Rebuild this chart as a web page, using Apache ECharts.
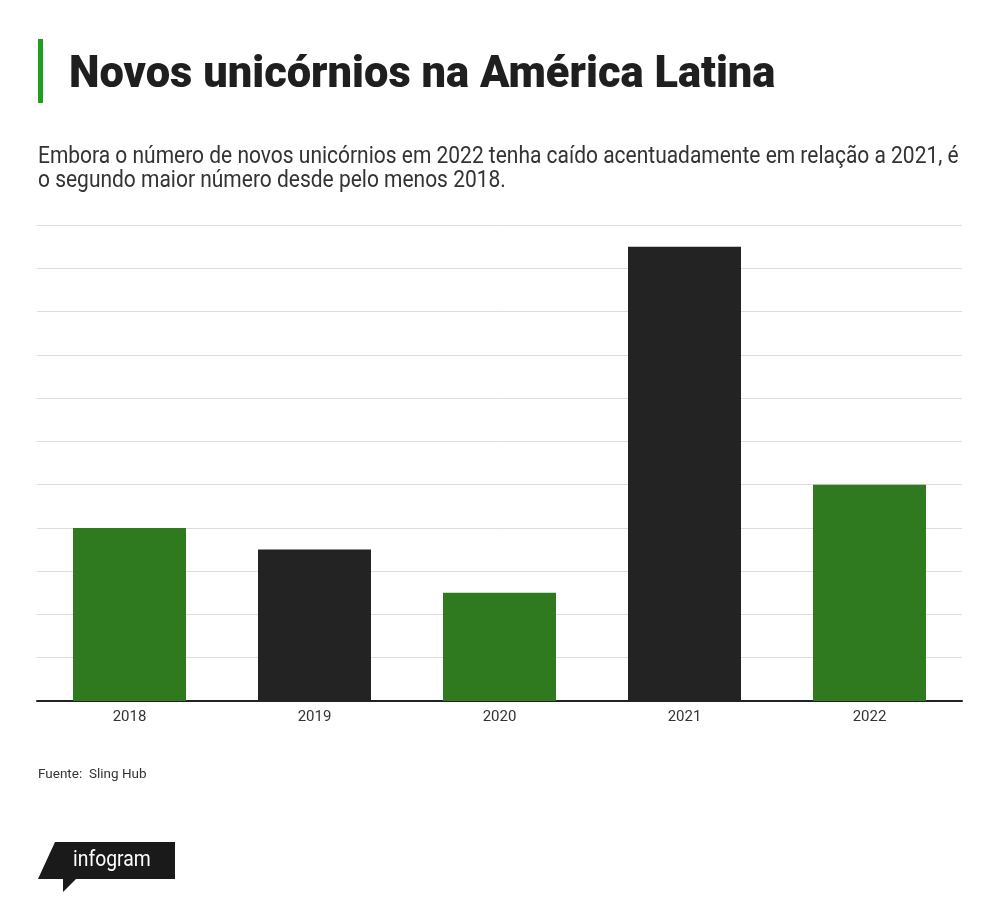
<!DOCTYPE html>
<html>
<head>
<meta charset="utf-8">
<script src="https://cdn.jsdelivr.net/npm/echarts@6/dist/echarts.min.js"></script>
<style>
  html, body { margin: 0; padding: 0; background: #fff; }
  #chart { width: 1000px; height: 911px; }
</style>
</head>
<body>
<div id="chart"></div>
<script>
var years = ['2018', '2019', '2020', '2021', '2022'];
var unicorns = [8, 7, 5, 21, 10];
var barColors = ['#2f7a1e', '#232323', '#2f7a1e', '#232323', '#2f7a1e'];

var titleText = 'Novos unicórnios na América Latina';
var subtitleLines = [
  'Embora o número de novos unicórnios em 2022 tenha caído acentuadamente em relação a 2021, é',
  'o segundo maior número desde pelo menos 2018.'
];
var sourceText = 'Fuente:  Sling Hub';

var chart = echarts.init(document.getElementById('chart'), null, { renderer: 'canvas' });

var option = {
  backgroundColor: '#ffffff',
  animation: false,
  grid: { left: 37, right: 38, top: 225, bottom: 210, containLabel: false },
  xAxis: {
    type: 'category',
    data: years,
    axisLine: { lineStyle: { color: '#222222', width: 2 } },
    axisTick: { show: false },
    axisLabel: { color: '#333333', fontFamily: 'Roboto', fontSize: 15, margin: 9 }
  },
  yAxis: {
    type: 'value',
    min: 0, max: 22, interval: 2,
    axisLabel: { show: false },
    axisLine: { show: false },
    axisTick: { show: false },
    splitLine: { lineStyle: { color: '#dddddd', width: 1 } }
  },
  series: [{
    type: 'bar',
    barWidth: 113,
    data: unicorns.map(function (v, i) {
      return { value: v, itemStyle: { color: barColors[i] } };
    })
  }],
  graphic: [
    { type: 'rect', shape: { x: 38, y: 39, width: 5, height: 64 }, style: { fill: '#1e9e1e' } },
    {
      type: 'text', x: 69, y: 76, scaleX: 0.965,
      style: { text: titleText, fill: '#1f1f1f', font: '900 45px Roboto', verticalAlign: 'middle' }
    },
    {
      type: 'text', x: 38, y: 157, scaleX: 0.912,
      style: { text: subtitleLines[0], fill: '#333333', font: '23px Roboto', verticalAlign: 'middle' }
    },
    {
      type: 'text', x: 38, y: 181, scaleX: 0.912,
      style: { text: subtitleLines[1], fill: '#333333', font: '23px Roboto', verticalAlign: 'middle' }
    },
    {
      type: 'text', x: 38, y: 775,
      style: { text: sourceText, fill: '#333333', font: '13.5px Roboto', verticalAlign: 'middle' }
    },
    {
      type: 'polygon',
      shape: { points: [[55, 842], [175, 842], [175, 879], [76, 879], [63, 892], [63, 879], [38, 879]] },
      style: { fill: '#1a1a1a' }
    },
    {
      type: 'text', x: 73, y: 860, scaleX: 0.88,
      style: { text: 'infogram', fill: '#ffffff', font: '22px Roboto', verticalAlign: 'middle' }
    }
  ]
};

chart.setOption(option);
</script>
</body>
</html>
